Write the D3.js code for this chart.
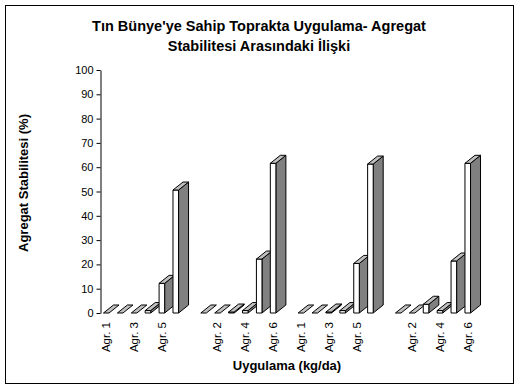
<!DOCTYPE html>
<html>
<head>
<meta charset="utf-8">
<script src="https://cdn.jsdelivr.net/npm/d3@7"></script>
<style>
  body { margin: 0; background: #fff; }
  text { font-family: "Liberation Sans", Arial, sans-serif; }
</style>
</head>
<body>
<div id="chart"></div>
<script>
// data
const seriesNames = ["Agr. 1", "Agr. 2", "Agr. 3", "Agr. 4", "Agr. 5", "Agr. 6"]
const group1 = [0, 0, 0, 1, 12.2, 50.6]
const group2 = [0, 0, 0.4, 1, 22.2, 61.6]
const group3 = [0, 0, 0.4, 1, 20.4, 61.3]
const group4 = [0, 0, 3.6, 1, 21.4, 61.6]
const yTicks = [0, 10, 20, 30, 40, 50, 60, 70, 80, 90, 100]
const titleLines = ["Tın Bünye'ye Sahip Toprakta Uygulama- Agregat", "Stabilitesi Arasındaki İlişki"]

// flat category list, an empty slot between groups
let cats = []
;[group1, group2, group3, group4].forEach((g, gi) => {
    if (gi > 0) cats.push({ label: "", value: null })
    g.forEach((v, i) => cats.push({ label: seriesNames[i], value: v }))
})

const W = 518, H = 389
const dx = 10, dy = -8 // 3d depth offset

const svg = d3.select("#chart").append("svg")
    .attr("width", W)
    .attr("height", H)

// outer frame
svg.append("rect")
    .attr("x", 5.5).attr("y", 5.5)
    .attr("width", 508).attr("height", 378)
    .attr("fill", "none").attr("stroke", "#000")

var x = d3.scaleBand()
    .domain(d3.range(cats.length))
    .range([100, 474])
    .paddingInner(0.6)
    .paddingOuter(0.25)

var y = d3.scaleLinear()
    .domain([0, 100])
    .range([313, 70])

// title
svg.append("g").selectAll("text")
    .data(titleLines)
    .join("text")
    .attr("x", 259)
    .attr("y", (d, i) => 31 + i * 20)
    .attr("text-anchor", "middle")
    .style("font-size", "14.5px")
    .style("font-weight", "bold")
    .text(d => d)

// y axis
var yAxis = d3.axisLeft(y)
    .tickValues(yTicks)
    .tickSize(4)
    .tickSizeOuter(0)
    .tickPadding(3)

var gy = svg.append("g")
    .attr("transform", "translate(100.5,0)")
    .call(yAxis)
gy.selectAll("text").style("font-size", "11px").style("font-family", "'Liberation Sans', Arial, sans-serif")
gy.selectAll("line, path").attr("stroke", "#000")

svg.append("text")
    .attr("transform", "translate(28,183) rotate(-90)")
    .attr("text-anchor", "middle")
    .style("font-size", "13px")
    .style("font-weight", "bold")
    .text("Agregat Stabilitesi (%)")

// bars
var bars = svg.append("g").attr("stroke", "#000").attr("stroke-width", 1).attr("stroke-linejoin", "round")

cats.forEach((c, i) => {
    if (c.value === null) return
    let x0 = x(i), x1 = x(i) + x.bandwidth()
    let yt = y(c.value), yb = y(0)
    let pt = (a, b) => a + "," + b
    // side
    if (yb - yt > 0.01) {
        bars.append("polygon")
            .attr("points", [pt(x1, yb), pt(x1 + dx, yb + dy), pt(x1 + dx, yt + dy), pt(x1, yt)].join(" "))
            .attr("fill", "#808080")
        bars.append("rect")
            .attr("x", x0).attr("y", yt)
            .attr("width", x1 - x0).attr("height", yb - yt)
            .attr("fill", "#fff")
    }
    // top
    bars.append("polygon")
        .attr("points", [pt(x0, yt), pt(x1, yt), pt(x1 + dx, yt + dy), pt(x0 + dx, yt + dy)].join(" "))
        .attr("fill", "#c0c0c0")
})

// x labels, every other category
svg.append("g").selectAll("text")
    .data(cats.map((c, i) => ({ c, i })).filter(d => d.i % 2 == 0 && d.c.label))
    .join("text")
    .attr("transform", d => "translate(" + (x(d.i) + x.bandwidth() / 2 + 4) + ",322) rotate(-90)")
    .attr("text-anchor", "end")
    .style("font-size", "11.5px")
    .text(d => d.c.label)

svg.append("text")
    .attr("x", 287)
    .attr("y", 370)
    .attr("text-anchor", "middle")
    .style("font-size", "13px")
    .style("font-weight", "bold")
    .text("Uygulama (kg/da)")
</script>
</body>
</html>
